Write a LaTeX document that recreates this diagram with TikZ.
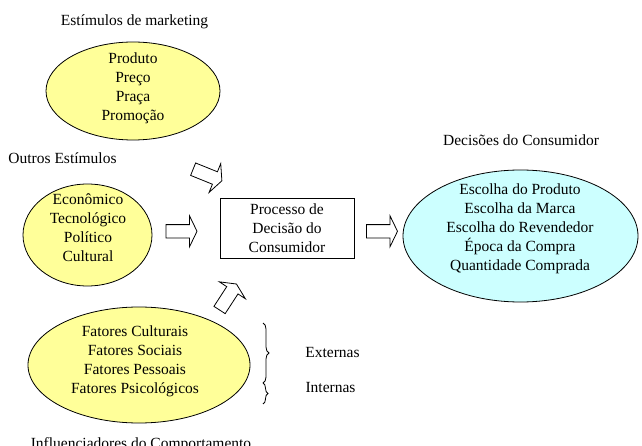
\documentclass[tikz,border=0pt]{standalone}
\usepackage{fontspec}
\setmainfont{Liberation Serif}
\usetikzlibrary{shapes.geometric,decorations.pathreplacing}
\definecolor{ylw}{HTML}{FFFF99}
\definecolor{cyn}{HTML}{CCFFFF}
\tikzset{
  x=1pt,y=1pt,
  lbl/.style={font=\fontsize{15.5}{19}\selectfont, inner sep=0pt, align=center},
  ell/.style={ellipse, draw, line width=0.8pt, inner sep=0pt},
  procbox/.style={rectangle, draw, line width=0.8pt, minimum width=134pt, minimum height=60pt, align=center, font=\fontsize{15.5}{19}\selectfont},
  bracestyle/.style={draw, line width=0.8pt, decorate, decoration={brace, amplitude=6pt}},
  barrow/.pic={\draw[line width=0.8pt, fill=white, line join=miter]
      (-15.5,-6.7) -- (8,-6.7) -- (8,-15.5) -- (15.5,0) -- (8,15.5) -- (8,6.7) -- (-15.5,6.7) -- cycle;}
}
\begin{document}
\begin{tikzpicture}
\useasboundingbox (0,0) rectangle (642,445);
% titles
\node[lbl] (t1) at (134.5,423) {Estímulos de marketing};
\node[lbl] (t2) at (62.5,287) {Outros Estímulos};
\node[lbl] (t3) at (521,305) {Decisões do Consumidor};
\node[lbl, anchor=base] (t4) at (141,-3.5) {Influenciadores do Comportamento};
% ellipses
\node[ell, fill=ylw, minimum width=174pt, minimum height=98pt] (e1) at (133,354) {};
\node[lbl] (e1t) at (133,357) {Produto\\Preço\\Praça\\Promoção};
\node[ell, fill=ylw, minimum width=129pt, minimum height=102pt] (e2) at (87.5,210) {};
\node[lbl] (e2t) at (88,217) {Econômico\\Tecnológico\\Político\\Cultural};
\node[ell, fill=ylw, minimum width=222pt, minimum height=116pt] (e3) at (139,80) {};
\node[lbl] (e3t) at (135,83.5) {Fatores Culturais\\Fatores Sociais\\Fatores Pessoais\\Fatores Psicológicos};
\node[ell, fill=cyn, minimum width=235pt, minimum height=132pt] (e4) at (520.5,209) {};
\node[lbl] (e4t) at (520,216.5) {Escolha do Produto\\Escolha da Marca\\Escolha do Revendedor\\Época da Compra\\Quantidade Comprada};
% process box
\node[procbox] (pb) at (287,217) {Processo de\\Decisão do\\Consumidor};
% block arrows
\pic at (181.5,213.7) {barrow};
\pic at (382,213.7) {barrow};
\pic[rotate=-22] at (207.5,270) {barrow};
\pic[rotate=57] at (228,148) {barrow};
% braces
\coordinate (b1) at (263,122);
\coordinate (b2) at (263,62);
\coordinate (b3) at (263,41);
\path[bracestyle] (b1) -- (b2);
\path[bracestyle, decoration={brace, amplitude=5pt}] (b2) -- (b3);
\node[lbl] (ext) at (332.5,93) {Externas};
\node[lbl] (int) at (330.5,58) {Internas};
\end{tikzpicture}
\end{document}
